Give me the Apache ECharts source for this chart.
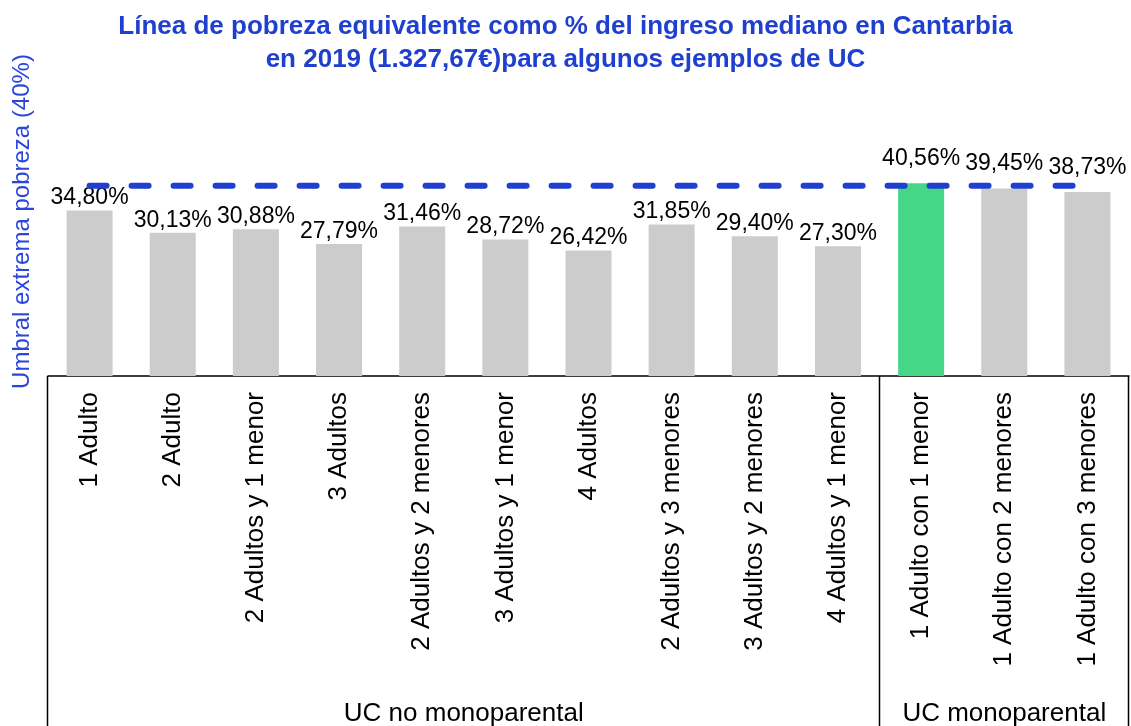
<!DOCTYPE html>
<html>
<head>
<meta charset="utf-8">
<script src="https://cdn.jsdelivr.net/npm/echarts@6/dist/echarts.min.js"></script>
<style>
  html, body { margin: 0; padding: 0; background: #fff; }
  #main { width: 1131px; height: 726px; }
</style>
</head>
<body>
<div id="main"></div>
<script>
// datos del grafico
const categories = [
  '1 Adulto', '2 Adulto', '2 Adultos y 1 menor', '3 Adultos', '2 Adultos y 2 menores',
  '3 Adultos y 1 menor', '4 Adultos', '2 Adultos y 3 menores', '3 Adultos y 2 menores',
  '4 Adultos y 1 menor', '1 Adulto con 1 menor', '1 Adulto con 2 menores', '1 Adulto con 3 menores'
]
const values = [34.80, 30.13, 30.88, 27.79, 31.46, 28.72, 26.42, 31.85, 29.40, 27.30, 40.56, 39.45, 38.73]
const umbral = [40, 40, 40, 40, 40, 40, 40, 40, 40, 40, 40, 40, 40]
const groupNames = ['UC no monoparental', 'UC monoparental']
const groupStart = [0, 10]
const groupEnd = [9, 12]
const highlightIndex = 10

const font = '"Liberation Sans", Arial, sans-serif'
const blue = '#1f3fcf'

let chart = echarts.init(document.getElementById('main'))

chart.setOption({
  animation: false,
  title: {
    text: 'Línea de pobreza equivalente como % del ingreso mediano en Cantarbia\nen 2019 (1.327,67€)para algunos ejemplos de UC',
    left: 'center',
    top: 5,
    textStyle: {
      fontFamily: font,
      fontSize: 26,
      fontWeight: 'bold',
      color: blue,
      lineHeight: 33
    }
  },
  grid: {
    left: 48,
    right: 2,
    top: 67,
    bottom: 350
  },
  xAxis: {
    type: 'category',
    data: categories,
    axisLine: { lineStyle: { color: '#000', width: 1.5 } },
    axisTick: { show: false },
    axisLabel: {
      interval: 0,
      rotate: 90,
      margin: 16,
      fontFamily: font,
      fontSize: 26,
      color: '#000'
    }
  },
  yAxis: {
    type: 'value',
    min: 0,
    max: 65,
    name: 'Umbral extrema pobreza (40%)',
    nameLocation: 'middle',
    nameGap: 14,
    nameTextStyle: {
      fontFamily: font,
      fontSize: 24,
      color: '#2b46dc'
    },
    axisLine: { show: false },
    axisTick: { show: false },
    axisLabel: { show: false },
    splitLine: { show: false }
  },
  series: [
    {
      name: 'valor',
      type: 'bar',
      barWidth: 46,
      data: values.map((v, i) => ({
        value: v,
        itemStyle: { color: i === highlightIndex ? '#45d688' : '#cccccc' },
        // las etiquetas cerca del umbral se suben por encima de la linea
        label: { distance: v > umbral[i] - 3 ? 13 : 1 }
      })),
      label: {
        show: true,
        position: 'top',
        fontFamily: font,
        fontSize: 23,
        color: '#000',
        formatter: p => p.value.toFixed(2).replace('.', ',') + '%'
      }
    },
    {
      name: 'umbral',
      type: 'line',
      data: umbral,
      symbol: 'none',
      z: 5,
      lineStyle: {
        color: blue,
        width: 6,
        type: [17, 25],
        cap: 'round'
      }
    }
  ]
})

// cajas de grupos debajo del eje
function drawGroups() {
  let c0 = chart.convertToPixel({ xAxisIndex: 0 }, categories[0])
  let c1 = chart.convertToPixel({ xAxisIndex: 0 }, categories[1])
  let half = (c1 - c0) / 2
  let base = chart.convertToPixel({ yAxisIndex: 0 }, 0)
  let elements = []
  let edges = []
  for (let g = 0; g < groupNames.length; g++) {
    let x0 = chart.convertToPixel({ xAxisIndex: 0 }, categories[groupStart[g]]) - half
    let x1 = chart.convertToPixel({ xAxisIndex: 0 }, categories[groupEnd[g]]) + half
    if (g === 0) edges.push(x0)
    edges.push(x1)
    elements.push({
      type: 'text',
      style: {
        text: groupNames[g],
        x: (x0 + x1) / 2,
        y: 714,
        align: 'center',
        verticalAlign: 'middle',
        font: '26px ' + font,
        fill: '#000'
      }
    })
  }
  edges.forEach(x => {
    elements.push({
      type: 'line',
      shape: { x1: Math.round(x) - 0.5, y1: base, x2: Math.round(x) - 0.5, y2: 726 },
      style: { stroke: '#000', lineWidth: 1.5 }
    })
  })
  chart.setOption({ graphic: elements })
}
drawGroups()

window.addEventListener('resize', function () { chart.resize(); drawGroups() })
</script>
</body>
</html>
